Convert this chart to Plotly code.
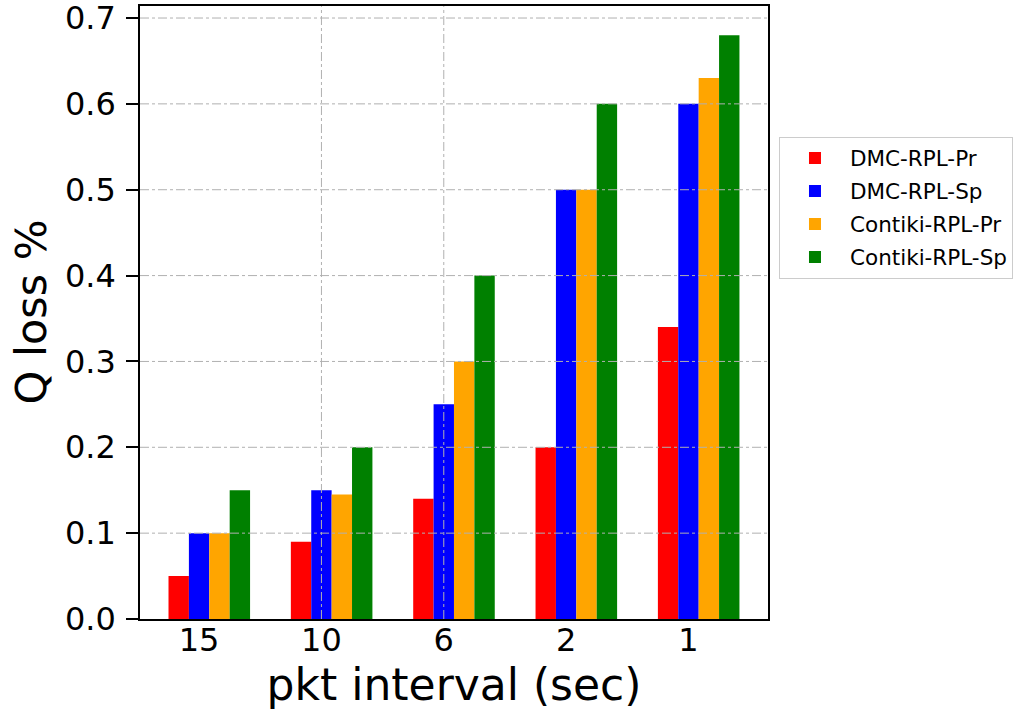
import plotly.graph_objects as go

categories = ["15", "10", "6", "2", "1"]
series_names = ["DMC-RPL-Pr", "DMC-RPL-Sp", "Contiki-RPL-Pr", "Contiki-RPL-Sp"]
dmc_pr = [0.05, 0.09, 0.14, 0.20, 0.34]
dmc_sp = [0.10, 0.15, 0.25, 0.50, 0.60]
contiki_pr = [0.10, 0.145, 0.30, 0.50, 0.63]
contiki_sp = [0.15, 0.20, 0.40, 0.60, 0.68]
colors = ["#ff0000", "#0000ff", "#ffa500", "#008000"]
y_ticks = [0.0, 0.1, 0.2, 0.3, 0.4, 0.5, 0.6, 0.7]

series = [dmc_pr, dmc_sp, contiki_pr, contiki_sp]
w = 1 / 6
offsets = [-1.5 * w, -0.5 * w, 0.5 * w, 1.5 * w]

FONT = "DejaVu Sans"
fig = go.Figure()
for name, vals, col, off in zip(series_names, series, colors, offsets):
    fig.add_trace(go.Bar(
        x=categories, y=vals, name=name, width=w, offset=off,
        marker=dict(color=col, line=dict(width=0)),
        legendgroup=name,
    ))

grid_style = dict(color="#b0b0b0", width=1, dash="dashdot")
shapes = []
for yv in y_ticks[1:]:
    shapes.append(dict(type="line", xref="paper", x0=0, x1=1, yref="y", y0=yv, y1=yv,
                       line=grid_style, layer="above"))
for c in categories:
    shapes.append(dict(type="line", xref="x", x0=c, x1=c, yref="paper", y0=0, y1=1,
                       line=grid_style, layer="above"))

fig.update_layout(
    width=1017, height=717,
    margin=dict(l=140, r=249, t=6, b=98, autoexpand=False),
    paper_bgcolor="white", plot_bgcolor="white",
    font=dict(family=FONT, color="black"),
    barmode="overlay",
    shapes=shapes,
    showlegend=True,
    legend=dict(
        x=1.0175, y=0.787, xanchor="left", yanchor="top",
        font=dict(family=FONT, size=21.5, color="black"),
        bordercolor="#cccccc", borderwidth=1, bgcolor="white",
        traceorder="grouped", tracegroupgap=2,
        itemwidth=60,
    ),
    xaxis=dict(
        type="category", categoryorder="array", categoryarray=categories,
        range=[-0.483, 4.65], automargin=False,
        showgrid=False, zeroline=False,
        showline=True, linecolor="black", linewidth=1.5, mirror=True,
        ticks="", tickfont=dict(size=32, family=FONT),
        ticklabelstandoff=-8,
        title=dict(text="pkt interval (sec)", font=dict(size=44, family=FONT), standoff=2),
    ),
    yaxis=dict(
        range=[0, 0.714], automargin=False,
        tickvals=y_ticks, ticktext=[f"{v:.1f}" for v in y_ticks],
        ticklabeloverflow="allow",
        showgrid=False, zeroline=False,
        showline=True, linecolor="black", linewidth=1.5, mirror=True,
        ticks="outside", ticklen=12, tickwidth=1.5, tickcolor="black",
        tickfont=dict(size=32, family=FONT),
        ticklabelstandoff=4,
    ),
    annotations=[dict(
        text="Q loss %", textangle=-90, xref="paper", yref="paper",
        x=0, y=0.5, xanchor="center", yanchor="middle", xshift=-110,
        showarrow=False, font=dict(size=43, family=FONT, color="black"),
    )],
)

fig.write_html(
    "out.html",
    config={"displayModeBar": False},
    post_script="document.body.style.margin='0';document.body.style.overflow='hidden';",
)
